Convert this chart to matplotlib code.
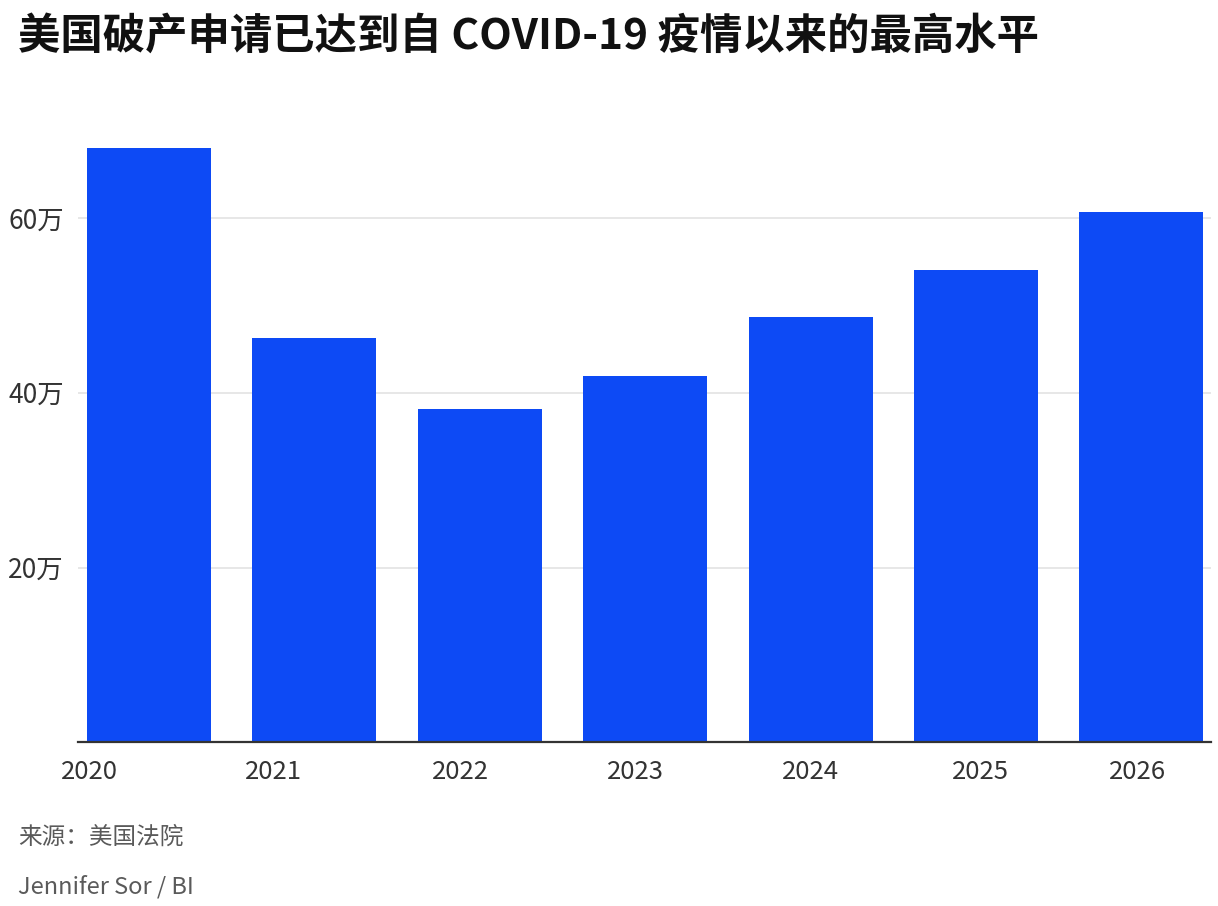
import matplotlib
matplotlib.use("Agg")
import matplotlib.pyplot as plt
import matplotlib.ticker as mtick

plt.rcParams['font.family'] = ['Noto Sans CJK SC', 'DejaVu Sans']

# --- Data ---
YEARS = ['2020', '2021', '2022', '2023', '2024', '2025', '2026']
FILINGS = [680400, 462700, 381100, 419200, 486400, 540800, 607200]
Y_TICKS = [200000, 400000, 600000]

# tick label offsets relative to the bars (layout only)
TICK_POS = [-0.36, 0.755, 1.885, 2.94, 4.0, 5.03, 5.98]

BAR_COLOR = '#0d4af5'
TEXT_COLOR = '#333333'
MUTED = '#5a5a5a'

fig = plt.figure(figsize=(12.18, 9.06), dpi=100)
fig.patch.set_facecolor('white')
ax = fig.add_axes([0.064, 0.1805, 0.93, 0.6755])

x = range(len(YEARS))
ax.bar(x, FILINGS, width=0.75, color=BAR_COLOR, zorder=2)

ax.set_xlim(-0.43, 6.42)
ax.set_ylim(0, 700000)

ax.set_yticks(Y_TICKS)
ax.yaxis.set_major_formatter(mtick.FuncFormatter(lambda v, p: f'{v / 10000:.0f}万'))
ax.set_xticks(TICK_POS)
ax.set_xticklabels(YEARS)

ax.tick_params(axis='both', length=0, colors=TEXT_COLOR)
ax.tick_params(axis='x', labelsize=18.5, pad=12)
ax.tick_params(axis='y', labelsize=19, pad=10)

ax.grid(axis='y', color='#e3e3e3', linewidth=1.2, zorder=0)
for side in ['top', 'right', 'left']:
    ax.spines[side].set_visible(False)
ax.spines['bottom'].set_color('#333333')
ax.spines['bottom'].set_linewidth(1.6)
ax.spines['bottom'].set_zorder(3)

fig.text(0.015, 1 - 37 / 906, '美国破产申请已达到自 COVID-19 疫情以来的最高水平',
         fontsize=30.5, fontweight='bold', color='#111111', va='center', ha='left')
fig.text(0.015, 1 - 837 / 906, '来源：美国法院',
         fontsize=17, color=MUTED, va='center', ha='left')
fig.text(0.015, 1 - 887 / 906, 'Jennifer Sor / BI',
         fontsize=17, color=MUTED, va='center', ha='left')

fig.savefig('out.png', dpi=100, facecolor='white')
